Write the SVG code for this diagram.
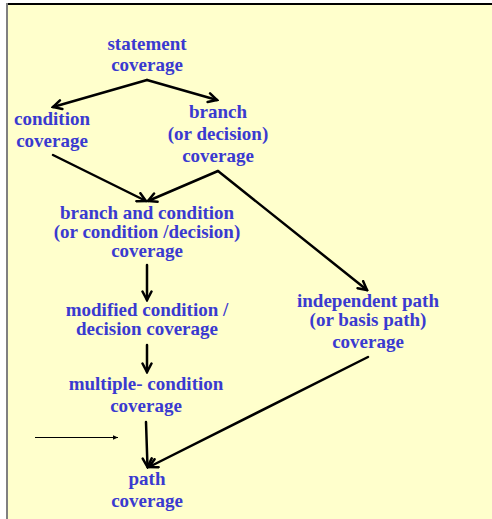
<svg xmlns="http://www.w3.org/2000/svg" width="492" height="519" viewBox="0 0 492 519">
  <style>
    .t { font-family: "Liberation Serif", "Times New Roman", serif; font-weight: bold; font-size: 19px; fill: #3A3AD0; text-anchor: middle; }
    .c { stroke: #000; stroke-width: 2.5; fill: none; stroke-linecap: round; }
    .thin { stroke: #000; stroke-width: 1; fill: none; }
  </style>
  <defs>
    <marker id="ah" viewBox="0 0 12 12" refX="10" refY="6" markerWidth="12" markerHeight="12" markerUnits="userSpaceOnUse" orient="auto">
      <path d="M1.5,1.5 L10,6 L1.5,10.5" fill="none" stroke="#000" stroke-width="2.5" stroke-linecap="round" stroke-linejoin="miter"/>
    </marker>
    <marker id="sh" viewBox="0 0 6 6" refX="5" refY="3" markerWidth="6" markerHeight="6" markerUnits="userSpaceOnUse" orient="auto">
      <path d="M0,0.8 L5,3 L0,5.2 Z" fill="#000"/>
    </marker>
  </defs>

  <rect x="0" y="0" width="492" height="519" fill="#FFFFFF"/>
  <rect x="8" y="5" width="484" height="514" fill="#FFFFCC"/>
  <rect x="6" y="3" width="2" height="516" fill="#808080"/>
  <rect x="8" y="3" width="484" height="2" fill="#000"/>

  <g id="connectors">
    <line class="c" x1="147" y1="80" x2="53" y2="107" marker-end="url(#ah)"/>
    <line class="c" x1="147" y1="80" x2="217" y2="100" marker-end="url(#ah)"/>
    <line class="c" x1="53" y1="155" x2="146" y2="201" marker-end="url(#ah)"/>
    <line class="c" x1="218" y1="171" x2="148" y2="201" marker-end="url(#ah)"/>
    <line class="c" x1="218" y1="171" x2="367" y2="290" marker-end="url(#ah)"/>
    <line class="c" x1="147" y1="265" x2="147" y2="300" marker-end="url(#ah)"/>
    <line class="c" x1="147" y1="345" x2="147" y2="372" marker-end="url(#ah)"/>
    <line class="c" x1="146" y1="422" x2="147.5" y2="467" marker-end="url(#ah)"/>
    <line class="c" x1="368" y1="357" x2="149" y2="467" marker-end="url(#ah)"/>
    <line class="thin" x1="35" y1="437.5" x2="118" y2="437.5" marker-end="url(#sh)"/>
  </g>

  <g id="statement">
    <text class="t" x="147" y="50">statement</text>
    <text class="t" x="147" y="71">coverage</text>
  </g>
  <g id="condition">
    <text class="t" x="52" y="125">condition</text>
    <text class="t" x="52" y="147">coverage</text>
  </g>
  <g id="branch">
    <text class="t" x="218" y="118">branch</text>
    <text class="t" x="218" y="140">(or decision)</text>
    <text class="t" x="218" y="162">coverage</text>
  </g>
  <g id="branch-condition">
    <text class="t" x="147" y="219">branch and condition</text>
    <text class="t" x="147" y="238">(or condition /decision)</text>
    <text class="t" x="147" y="257">coverage</text>
  </g>
  <g id="mcdc">
    <text class="t" x="147" y="316">modified condition /</text>
    <text class="t" x="147" y="335">decision coverage</text>
  </g>
  <g id="multiple-condition">
    <text class="t" x="146" y="390">multiple- condition</text>
    <text class="t" x="146" y="412">coverage</text>
  </g>
  <g id="independent-path">
    <text class="t" x="368" y="307">independent path</text>
    <text class="t" x="368" y="326">(or basis path)</text>
    <text class="t" x="368" y="348">coverage</text>
  </g>
  <g id="path">
    <text class="t" x="147" y="485">path</text>
    <text class="t" x="147" y="507">coverage</text>
  </g>
</svg>
